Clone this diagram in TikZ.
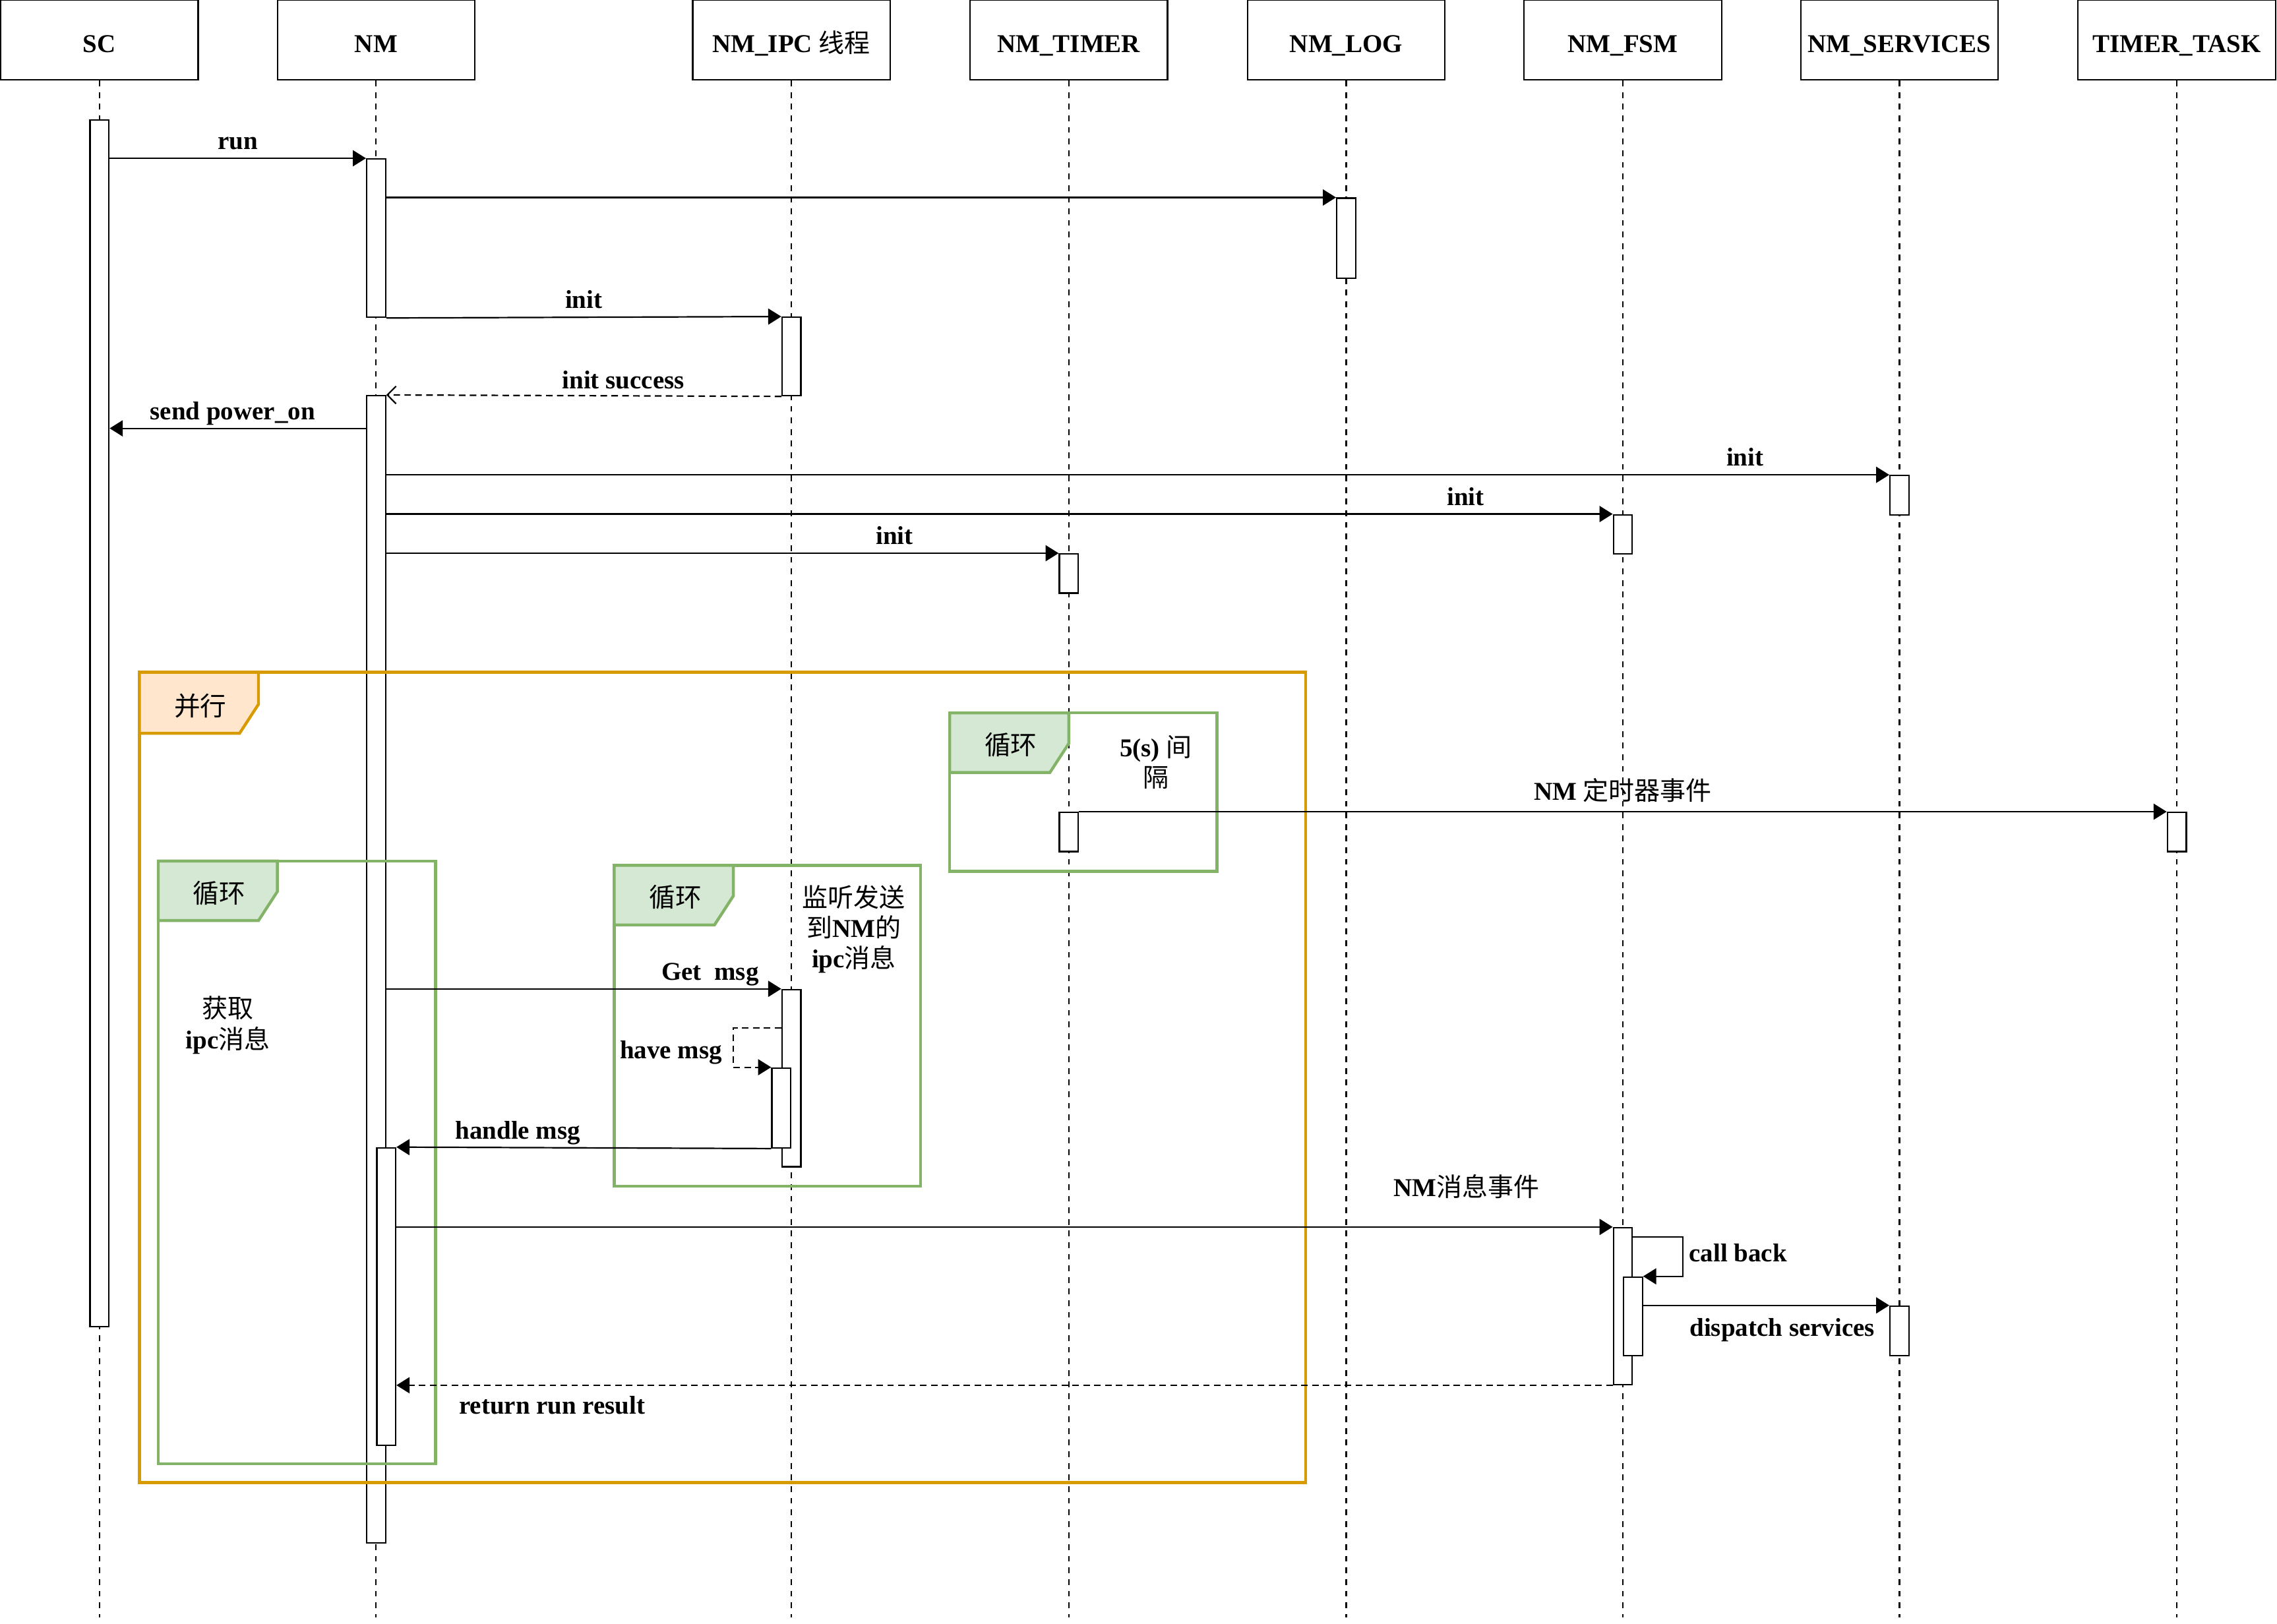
\documentclass[tikz,border=0pt]{standalone}
\usepackage{fontspec}
\setmainfont{Liberation Serif}
\newfontfamily\cjk{Noto Sans CJK SC}
\newcommand{\zh}[1]{{\cjk\mdseries #1}}
\usetikzlibrary{arrows.meta}
\definecolor{parline}{HTML}{D79B00}
\definecolor{parfill}{HTML}{FFE6CC}
\definecolor{loopline}{HTML}{82B366}
\definecolor{loopfill}{HTML}{D5E8D4}
\tikzset{
  head/.style={draw, line width=1pt, minimum width=136pt, minimum height=55pt, inner sep=0pt, text height=17.6pt, text depth=0pt, font=\fontsize{17.7}{21}\selectfont\bfseries},
  life/.style={line width=1pt, dash pattern=on 4pt off 4pt},
  bar/.style={draw, fill=white, line width=1pt, anchor=north, minimum width=13pt, inner sep=0pt},
  msg/.style={line width=1pt, -{Triangle[length=9pt,width=11pt]}},
  selfmsg/.style={msg, dash pattern=on 4.5pt off 3pt},
  reply/.style={line width=1pt, dash pattern=on 4.5pt off 3pt, -{Straight Barb[length=6pt,width=12pt]}},
  lbl/.style={font=\fontsize{17.7}{21}\selectfont\bfseries, anchor=base, inner sep=0pt},
  note/.style={font=\fontsize{17.7}{21}\selectfont\bfseries, align=center, inner sep=0pt},
  partab/.style={line width=2pt, draw=parline, fill=parfill},
  looptab/.style={line width=2pt, draw=loopline, fill=loopfill},
  tabtxt/.style={font=\fontsize{18}{21}\selectfont\cjk, inner sep=0pt}
}
\begin{document}
\begin{tikzpicture}[x=1pt,y=-1pt]
\useasboundingbox (0,0) rectangle (1568,1118.4);
\node at (68.5,27.5) [head] (sc) {SC};
\node at (259,27.5) [head] (nm) {NM};
\node at (545,27.5) [head] (ipc) {NM\_IPC \zh{线程}};
\node at (736,27.5) [head] (tmr) {NM\_TIMER};
\node at (927,27.5) [head] (log) {NM\_LOG};
\node at (1117.5,27.5) [head] (fsm) {NM\_FSM};
\node at (1308,27.5) [head] (srv) {NM\_SERVICES};
\node at (1499,27.5) [head] (task) {TIMER\_TASK};
\foreach \n in {sc,nm,ipc,tmr,log,fsm,srv,task}
  \draw[life] (\n.south) -- (\n.south |- 0,1114);

\node at (sc |- 0,82) [bar, minimum height=831pt] (scA) {};
\node at (nm |- 0,109) [bar, minimum height=109pt] (nmA) {};
\node at (log |- 0,136) [bar, minimum height=55pt] (logA) {};
\node at (ipc |- 0,218) [bar, minimum height=54pt] (ipcA) {};
\node at (nm |- 0,272) [bar, minimum height=790pt] (nmB) {};
\node at (srv |- 0,327) [bar, minimum height=27pt] (srvA) {};
\node at (fsm |- 0,354) [bar, minimum height=27pt] (fsmA) {};
\node at (tmr |- 0,381) [bar, minimum height=27pt] (tmrA) {};
\node at (tmr |- 0,559) [bar, minimum height=27pt] (tmrB) {};
\node at (task |- 0,559) [bar, minimum height=27pt] (taskA) {};
\node at (ipc |- 0,681) [bar, minimum height=122pt] (ipcB) {};
\node at ([xshift=-7pt]ipc |- 0,735) [bar, minimum height=55pt] (ipcC) {};
\node at ([xshift=7pt]nm |- 0,790) [bar, minimum height=205pt] (nmC) {};
\node at (fsm |- 0,845) [bar, minimum height=108pt] (fsmB) {};
\node at ([xshift=7pt]fsm |- 0,879) [bar, minimum height=54pt] (fsmC) {};
\node at (srv |- 0,899) [bar, minimum height=34pt] (srvB) {};

\draw[line width=2pt, parline] (96,463) rectangle (899,1021);
\draw[partab] (96,463) -- (178,463) -- (178,485) -- (165,505) -- (96,505) -- cycle;
\node at (138,486) [tabtxt] (partxt) {并行};
\draw[line width=2pt, loopline] (109,593) rectangle (300,1008);
\draw[looptab] (109,593) -- (191,593) -- (191,614) -- (178,634) -- (109,634) -- cycle;
\node at (151,615) [tabtxt] (loopltxt) {循环};
\draw[line width=2pt, loopline] (423,596) rectangle (634,817);
\draw[looptab] (423,596) -- (505,596) -- (505,617) -- (492,637) -- (423,637) -- cycle;
\node at (465,618) [tabtxt] (loopmtxt) {循环};
\draw[line width=2pt, loopline] (654,491) rectangle (838,600);
\draw[looptab] (654,491) -- (736,491) -- (736,512) -- (723,532) -- (654,532) -- cycle;
\node at (696,513) [tabtxt] (looptxt) {循环};

\node at (157,706) [note] (getipc) {\zh{获取}\\ipc\zh{消息}};
\node at (588,640) [note] (listen) {\zh{监听发送}\\\zh{到}NM\zh{的}\\ipc\zh{消息}};
\node at (796,525) [note] (interval) {5(s) \zh{间}\\\zh{隔}};

\draw[msg] (scA.east |- nmA.north) -- (nmA.north west) node[lbl, midway, yshift=6pt] {run};
\draw[msg] (nmA.east |- logA.north) -- (logA.north west);
\draw[msg] (nmA.south east) -- (ipcA.north west) node[lbl, midway, yshift=6pt] {init};
\draw[reply] (ipcA.south west) -- (nmB.north east) node[lbl, pos=0.4, yshift=5pt] {init success};
\draw[msg] (nmB.west |- 0,295) -- (scA.east |- 0,295) node[lbl, pos=0.52, yshift=6pt] {send power\_on};
\draw[msg] (nmB.east |- srvA.north) -- (srvA.north west) node[lbl, pos=0.904, yshift=6pt] {init};
\draw[msg] (nmB.east |- fsmA.north) -- (fsmA.north west) node[lbl, pos=0.88, yshift=6pt] {init};
\draw[msg] (nmB.east |- tmrA.north) -- (tmrA.north west) node[lbl, pos=0.756, yshift=6pt] {init};
\draw[msg] (tmrB.north east) -- (taskA.north west) node[lbl, midway, yshift=8pt] {NM \zh{定时器事件}};
\draw[msg] (nmB.east |- ipcB.north) -- (ipcB.north west) node[lbl, pos=0.82, yshift=6pt] {Get\ \ msg};
\draw[selfmsg] (ipcB.west |- 0,708) -| (505,735) -- (ipcC.north west);
\node at (462,729) [lbl] (havemsg) {have msg};
\draw[msg] (ipcC.south west) -- (nmC.north east) node[lbl, pos=0.676, yshift=6pt] {handle msg};
\draw[msg] (nmC.east |- fsmB.north) -- (fsmB.north west) node[lbl, pos=0.88, yshift=21pt] {NM\zh{消息事件}};
\draw[msg] (fsmB.east |- 0,852) -| (1159,879) -- (fsmC.north east);
\node at (1163,869) [lbl, anchor=base west] (callback) {call back};
\draw[msg] (fsmC.east |- srvB.north) -- (srvB.north west) node[lbl, pos=0.565, yshift=-21pt] {dispatch services};
\draw[selfmsg] (fsmB.south west) -- (nmC.east |- fsmB.south) node[lbl, pos=0.872, yshift=-20pt] {return run result};
\end{tikzpicture}
\end{document}
